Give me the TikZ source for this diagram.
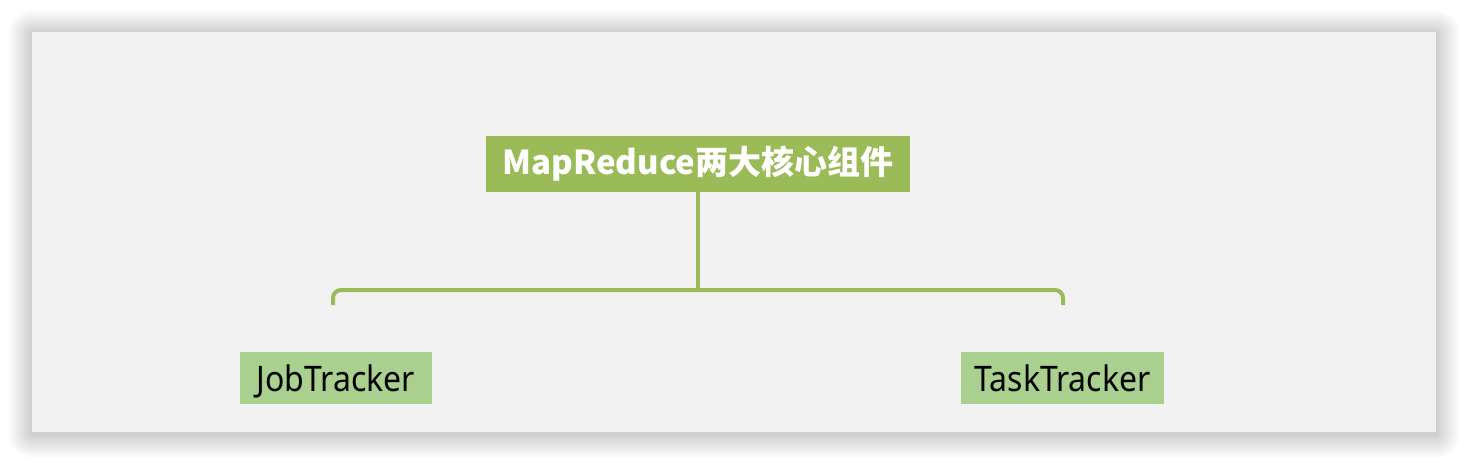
\documentclass[tikz,border=0pt]{standalone}
\usepackage{fontspec}
\newfontfamily\cjk{Noto Sans CJK SC}
\newfontfamily\lat{Noto Sans}
\definecolor{panel}{HTML}{F2F2F2}
\definecolor{olive}{HTML}{9BBB59}
\definecolor{lightg}{HTML}{A9D08E}
\begin{document}
\begin{tikzpicture}[x=1pt,y=-1pt,
  topbox/.style={fill=olive, text=white, inner sep=0pt, minimum width=424pt, minimum height=56pt, font=\cjk\bfseries\fontsize{33}{38}\selectfont},
  leafbox/.style={fill=lightg, text=black, inner sep=0pt, minimum height=52pt, text height=32pt, text depth=6pt, font=\lat\fontsize{32}{36}\selectfont},
  conn/.style={draw=olive, line width=4pt}]
\useasboundingbox (0,0) rectangle (1468,464);
\fill[white] (0,0) rectangle (1468,464);
% soft shadow
\foreach \i in {1,...,24}{
  \fill[black, opacity=0.006, rounded corners=\i pt] (32-\i,32-\i+2) rectangle (1436+\i,432+\i+2);
}
\fill[panel] (32,32) rectangle (1436,432);
\node[topbox] (top) at (698,164) {MapReduce两大核心组件};
\node[leafbox, minimum width=192pt] (job) at (336,378) {\scalebox{1}[1.1]{JobTracker}};
\node[leafbox, minimum width=203pt] (task) at (1062.5,378) {\scalebox{1}[1.1]{TaskTracker}};
\coordinate (j) at (top.south |- 0,290);
\coordinate (l) at (333,305);
\coordinate (r) at (1063,305);
\draw[conn] (top.south) -- (j);
\draw[conn, rounded corners=8pt] (l) -- (l |- j) -- (r |- j) -- (r);
\end{tikzpicture}
\end{document}
